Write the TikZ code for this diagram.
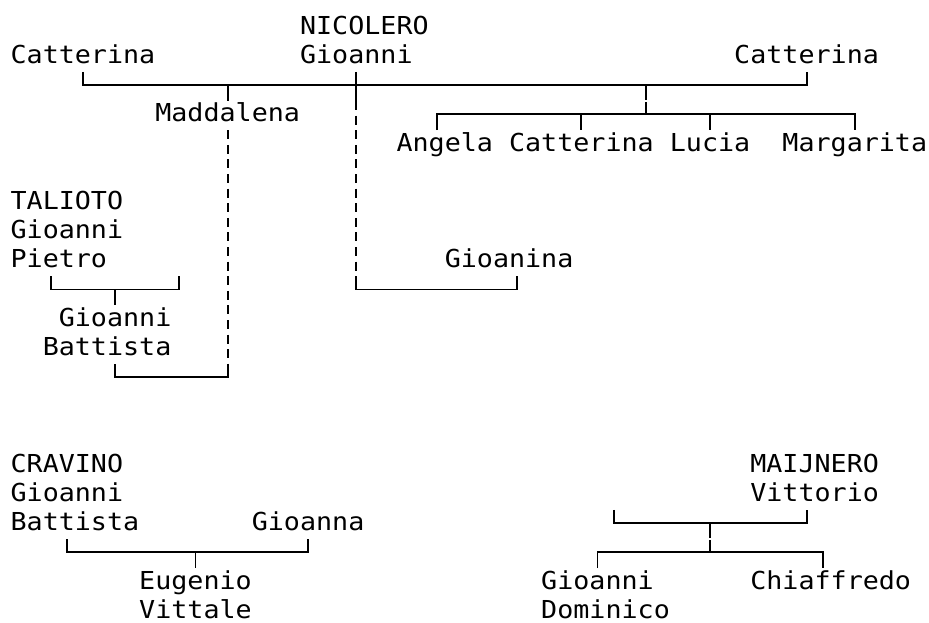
\documentclass[tikz,border=0pt]{standalone}
\usepackage{fontspec}
\newfontfamily\monofnt[FakeStretch=1.08]{DejaVu Sans Mono}
% column / row helpers (pixel units, y downward)
\newcommand{\CX}[1]{(10.6+16.08*(#1+0.5))}% centre of cell column
\newcommand{\TX}[1]{(10.6+16.08*(#1))}% left edge of cell column
\newcommand{\LY}[1]{(29.2*(#1)-2.5)}% box line height in row
\newcommand{\TY}[1]{(29.2*(#1)-15.8)}% top of row cell
\newcommand{\BTY}[1]{(29.2*(#1)+13.4)}% bottom of row cell
\newcommand{\BY}[1]{(29.2*(#1)+5)}% text baseline of row
\tikzset{
  txt/.style={anchor=base west, inner sep=0pt, outer sep=0pt,
              font=\monofnt\fontsize{24.73}{29}\selectfont},
  ln/.style={line width=1.9pt, line cap=butt, line join=miter},
  dln/.style={ln, dash pattern=on 9pt off 5.6pt},
}
\begin{document}
\begin{tikzpicture}[x=1pt,y=-1pt]
\useasboundingbox (0,0) rectangle (929,623);
\fill[white] (0,0) rectangle (929,623);

% ---- texts ----
\node[txt] (nic)  at ({\TX{18}},{\BY{1}}) {NICOLERO};
\node[txt] (catL) at ({\TX{0}},{\BY{2}}) {Catterina};
\node[txt] (gio)  at ({\TX{18}},{\BY{2}}) {Gioanni};
\node[txt] (catR) at ({\TX{45}},{\BY{2}}) {Catterina};
\node[txt] (mad)  at ({\TX{9}},{\BY{4}}) {Maddalena};
\node[txt] (ang)  at ({\TX{24}},{\BY{5}}) {Angela};
\node[txt] (catC) at ({\TX{31}},{\BY{5}}) {Catterina};
\node[txt] (luc)  at ({\TX{41}},{\BY{5}}) {Lucia};
\node[txt] (mar)  at ({\TX{48}},{\BY{5}}) {Margarita};
\node[txt] (tal)  at ({\TX{0}},{\BY{7}}) {TALIOTO};
\node[txt] (talg) at ({\TX{0}},{\BY{8}}) {Gioanni};
\node[txt] (talp) at ({\TX{0}},{\BY{9}}) {Pietro};
\node[txt] (gina) at ({\TX{27}},{\BY{9}}) {Gioanina};
\node[txt] (gbg)  at ({\TX{3}},{\BY{11}}) {Gioanni};
\node[txt] (gbb)  at ({\TX{2}},{\BY{12}}) {Battista};
\node[txt] (cra)  at ({\TX{0}},{\BY{16}}) {CRAVINO};
\node[txt] (crag) at ({\TX{0}},{\BY{17}}) {Gioanni};
\node[txt] (crab) at ({\TX{0}},{\BY{18}}) {Battista};
\node[txt] (gna)  at ({\TX{15}},{\BY{18}}) {Gioanna};
\node[txt] (eug)  at ({\TX{8}},{\BY{20}}) {Eugenio};
\node[txt] (vit)  at ({\TX{8}},{\BY{21}}) {Vittale};
\node[txt] (mai)  at ({\TX{46}},{\BY{16}}) {MAIJNERO};
\node[txt] (maiv) at ({\TX{46}},{\BY{17}}) {Vittorio};
\node[txt] (gdg)  at ({\TX{33}},{\BY{20}}) {Gioanni};
\node[txt] (gdd)  at ({\TX{33}},{\BY{21}}) {Dominico};
\node[txt] (chi)  at ({\TX{46}},{\BY{20}}) {Chiaffredo};

% ---- NICOLERO family ----
\coordinate (a1) at ({\CX{4}},{\TY{3}});
\coordinate (a2) at ({\CX{4}},{\LY{3}});
\coordinate (a3) at ({\CX{49}},{\LY{3}});
\coordinate (a4) at ({\CX{49}},{\TY{3}});
\draw[ln] (a1) -- (a2) -- (a3) -- (a4);
% Maddalena tick
\coordinate (m1) at ({\CX{13}},{\LY{3}});
\coordinate (m2) at ({\CX{13}},{\BTY{3}});
\draw[ln] (m1) -- (m2);
% Gioanni cross + dashed to Gioanina
\coordinate (n1) at ({\CX{21}},{\TY{3}});
\coordinate (n2) at ({\CX{21}},{\BTY{3}});
\coordinate (n3) at ({\CX{21}},{\TY{10}});
\coordinate (n4) at ({\CX{21}},{\LY{10}});
\coordinate (n5) at ({\CX{31}},{\LY{10}});
\coordinate (n6) at ({\CX{31}},{\TY{10}});
\draw[ln] (n1) -- (n2);
\draw[dln] (n2) -- (n3);
\draw[ln] (n3) -- (n4) -- (n5) -- (n6);
% second marriage children
\coordinate (r1) at ({\CX{39}},{\LY{3}});
\coordinate (r2) at ({\CX{39}},{\BTY{3}-1.2});
\coordinate (r3) at ({\CX{39}},{\TY{4}+1.2});
\coordinate (r4) at ({\CX{39}},{\LY{4}});
\draw[ln] (r1) -- (r2);
\draw[ln] (r3) -- (r4);
\coordinate (k1) at ({\CX{26}},{\BTY{4}});
\coordinate (k2) at ({\CX{26}},{\LY{4}});
\coordinate (k3) at ({\CX{52}},{\LY{4}});
\coordinate (k4) at ({\CX{52}},{\BTY{4}});
\draw[ln] (k1) -- (k2) -- (k3) -- (k4);
\coordinate (k5) at ({\CX{35}},{\LY{4}});
\coordinate (k6) at ({\CX{35}},{\BTY{4}});
\coordinate (k7) at ({\CX{43}},{\LY{4}});
\coordinate (k8) at ({\CX{43}},{\BTY{4}});
\draw[ln] (k5) -- (k6);
\draw[ln] (k7) -- (k8);

% ---- Maddalena dashed to Gioanni Battista ----
\coordinate (d1) at ({\CX{13}},{\TY{5}});
\coordinate (d2) at ({\CX{13}},{\TY{13}});
\coordinate (d3) at ({\CX{13}},{\LY{13}});
\coordinate (d4) at ({\CX{6}},{\LY{13}});
\coordinate (d5) at ({\CX{6}},{\TY{13}});
\draw[dln] (d1) -- (d2);
\draw[ln] (d2) -- (d3) -- (d4) -- (d5);

% ---- TALIOTO bracket ----
\coordinate (t1) at ({\CX{2}},{\TY{10}});
\coordinate (t2) at ({\CX{2}},{\LY{10}});
\coordinate (t3) at ({\CX{10}},{\LY{10}});
\coordinate (t4) at ({\CX{10}},{\TY{10}});
\coordinate (t5) at ({\CX{6}},{\LY{10}});
\coordinate (t6) at ({\CX{6}},{\BTY{10}});
\draw[ln] (t1) -- (t2) -- (t3) -- (t4);
\draw[ln] (t5) -- (t6);

% ---- CRAVINO bracket ----
\coordinate (c1) at ({\CX{3}},{\TY{19}});
\coordinate (c2) at ({\CX{3}},{\LY{19}});
\coordinate (c3) at ({\CX{18}},{\LY{19}});
\coordinate (c4) at ({\CX{18}},{\TY{19}});
\coordinate (c5) at ({\CX{11}},{\LY{19}});
\coordinate (c6) at ({\CX{11}},{\BTY{19}});
\draw[ln] (c1) -- (c2) -- (c3) -- (c4);
\draw[ln] (c5) -- (c6);

% ---- MAIJNERO brackets ----
\coordinate (v1) at ({\CX{37}},{\TY{18}});
\coordinate (v2) at ({\CX{37}},{\LY{18}});
\coordinate (v3) at ({\CX{49}},{\LY{18}});
\coordinate (v4) at ({\CX{49}},{\TY{18}});
\draw[ln] (v1) -- (v2) -- (v3) -- (v4);
\coordinate (v5) at ({\CX{43}},{\LY{18}});
\coordinate (v6) at ({\CX{43}},{\BTY{18}-1.2});
\coordinate (v7) at ({\CX{43}},{\TY{19}+1.2});
\coordinate (v8) at ({\CX{43}},{\LY{19}});
\draw[ln] (v5) -- (v6);
\draw[ln] (v7) -- (v8);
\coordinate (w1) at ({\CX{36}},{\BTY{19}});
\coordinate (w2) at ({\CX{36}},{\LY{19}});
\coordinate (w3) at ({\CX{50}},{\LY{19}});
\coordinate (w4) at ({\CX{50}},{\BTY{19}});
\draw[ln] (w1) -- (w2) -- (w3) -- (w4);
\end{tikzpicture}
\end{document}
